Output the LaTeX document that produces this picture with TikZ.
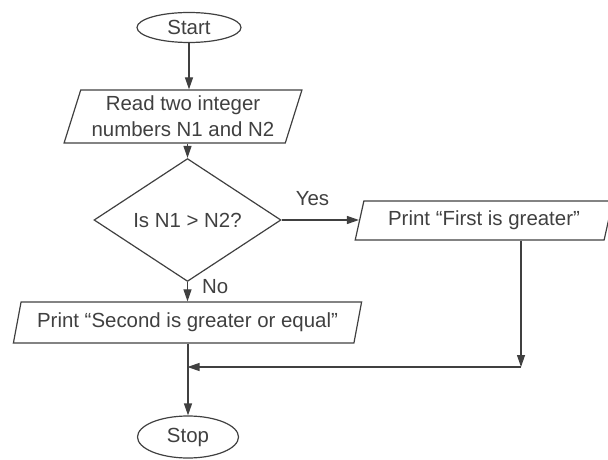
\documentclass[tikz,border=0pt]{standalone}
\usepackage{fontspec}
\setmainfont{Liberation Sans}
\usetikzlibrary{shapes.geometric,arrows.meta}

\begin{document}
\begin{tikzpicture}[x=1bp, y=-1bp, color=black!75, line width=1.2bp,
	font=\fontsize{20.5}{26}\selectfont,
	term/.style={ellipse, draw, inner sep=0pt},
	io/.style={trapezium, trapezium left angle=70, trapezium right angle=110,
	trapezium stretches=true, draw, inner sep=0pt, align=center},
	decision/.style={diamond, draw, inner sep=0pt},
	arr/.style={-{Triangle[length=12bp,width=8bp]}},
	lbl/.style={inner sep=2bp}]
\useasboundingbox (0,0) rectangle (608,460);
\clip (0,0) rectangle (608,460);
\node[term, minimum width=104bp, minimum height=30bp] (start) at (189,27.5) {Start};
\node[io, minimum width=238bp, minimum height=53bp] (read) at (183,116.5) {Read two integer\\numbers N1 and N2};
\node[decision, minimum width=187bp, minimum height=80bp] (dec) at (187.5,220) {Is N1 > N2?};
\node[io, minimum width=258bp, minimum height=39bp] (first) at (484,220.5) {Print “First is greater”};
\node[io, minimum width=349bp, minimum height=41bp] (second) at (187.5,322.5) {Print “Second is greater or equal”};
\node[term, minimum width=101bp, minimum height=42bp] (stop) at (188,437) {Stop};
\coordinate (corner) at (521,367);
\coordinate (join) at (187.5,367);
% connectors
\draw[arr] (start.south) -- (start.south |- read.north);
\draw[arr] (read.south -| dec) -- (dec.north);
\draw[arr] (dec.east) -- (dec.east -| first.west) node[lbl, pos=0.4, above=12bp] {Yes};
\draw[arr] (dec.south) -- (second.north -| dec) node[lbl, pos=0.24, right=12bp] {No};
\draw[arr] (first.south -| corner) -- (corner);
\draw[arr] (corner) -- (join);
\draw[arr] (second.south -| stop) -- (stop.north);
\end{tikzpicture}
\end{document}
